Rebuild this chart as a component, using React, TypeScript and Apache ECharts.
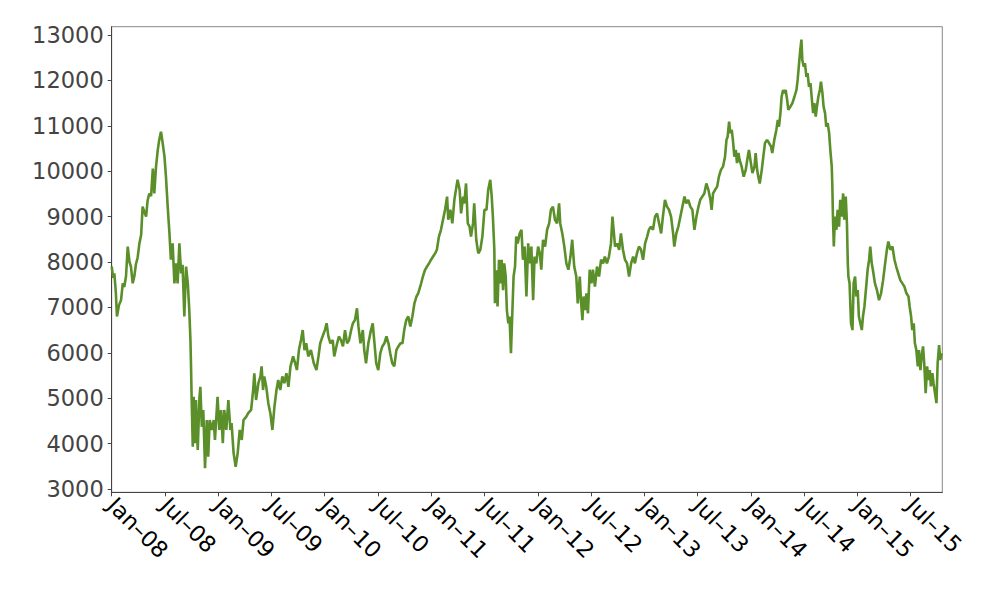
import React, { useEffect, useRef } from "react";
import * as echarts from "echarts";

// x: days since 2008-01-01, y: index level
const START_YEAR = 2008;
const X_END_DAYS = 2848;

const points2008to2011: [number, number][] = [
  [0, 7900], [5, 7650], [9, 7750], [14, 7350], [18, 6800], [25, 7050], [32, 7160], [38, 7530], [43, 7450], [49, 7680],
  [55, 8340], [61, 8000], [66, 7900], [72, 7530], [78, 7700], [83, 7950], [89, 8100], [95, 8410], [101, 8600], [106, 9220],
  [112, 9100], [118, 9000], [123, 9350], [129, 9510], [135, 9450], [141, 10060], [146, 9510], [152, 10100], [158, 10470], [163, 10690],
  [169, 10870], [175, 10610], [181, 10320], [186, 9880], [192, 9220], [198, 8630], [203, 8050], [209, 8410], [215, 7530], [221, 7970],
  [226, 7530], [232, 8410], [238, 7750], [243, 7940], [249, 6800], [255, 7900], [261, 7530], [266, 6940], [270, 6280], [272, 5700],
  [274, 5030], [278, 3930], [281, 5030], [286, 4010], [289, 4960], [295, 3860], [301, 5030], [304, 5250], [309, 4370], [314, 4740],
  [320, 3460], [326, 4520], [331, 3710], [336, 4520], [343, 4300], [350, 4520], [354, 4080], [363, 5030], [369, 4300], [375, 4740],
  [381, 4010], [386, 4740], [393, 4300], [400, 4960], [407, 4300], [411, 4450], [418, 3790], [425, 3490], [432, 3790], [439, 4300],
  [446, 4080], [452, 4520], [461, 4590], [468, 4670], [478, 4740], [485, 5180], [489, 5550], [495, 4960], [503, 5330], [510, 5480],
  [514, 5700], [519, 5180], [523, 5480], [530, 5250], [537, 4890], [544, 4670], [551, 4300], [558, 4810], [565, 5180], [571, 5400],
  [578, 5180], [585, 5480], [592, 5330], [599, 5550], [606, 5250], [613, 5700], [622, 5920], [629, 5770], [635, 5620], [642, 6060],
  [649, 6280], [655, 6500], [661, 6060], [667, 6210], [674, 5920], [683, 6060], [693, 5770], [702, 5620], [709, 5920], [715, 6210],
  [723, 6360], [731, 6500], [737, 6650], [743, 6360], [750, 6210], [758, 6280], [763, 5920], [773, 6210], [779, 6360], [786, 6280],
  [793, 6140], [800, 6500], [807, 6210], [814, 6280], [821, 6500], [827, 6650], [834, 6720], [841, 6980], [846, 6580], [853, 6210],
  [861, 6500], [866, 6060], [872, 5770], [880, 6210], [889, 6500], [895, 6650], [901, 6210], [907, 5770], [914, 5620], [921, 5990],
  [928, 6140], [935, 6210], [942, 6360], [949, 6210], [955, 5990], [962, 5770], [969, 5700], [976, 6060], [983, 6140], [990, 6210],
  [997, 6210], [1003, 6500], [1010, 6720], [1017, 6800], [1024, 6580], [1031, 6800], [1038, 7090], [1045, 7240], [1051, 7310], [1061, 7530],
  [1067, 7680], [1074, 7820], [1081, 7900], [1088, 7970], [1095, 8050], [1102, 8120], [1109, 8190], [1115, 8270], [1122, 8560], [1129, 8710],
  [1136, 8930], [1143, 9150], [1150, 9440], [1154, 8930], [1161, 9150], [1168, 8850], [1175, 9370], [1182, 9660], [1186, 9810], [1193, 9590],
  [1198, 9070], [1205, 9440], [1209, 9290], [1215, 9730], [1221, 8850], [1227, 8780], [1232, 8560], [1239, 8850], [1243, 9290], [1250, 8490],
  [1257, 8190], [1264, 8270], [1271, 8560], [1278, 9150], [1285, 9150], [1291, 9590], [1298, 9810], [1303, 9440], [1307, 9000], [1312, 8270],
  [1314, 7090], [1319, 7820], [1323, 7020], [1328, 8050], [1332, 7530], [1337, 8050], [1342, 7380], [1346, 7970], [1351, 7680], [1355, 6940],
  [1360, 6650], [1364, 6800], [1369, 5990], [1374, 6940], [1378, 7680], [1383, 7900], [1387, 8560], [1392, 8410], [1399, 8630],
];

const points2011to2015: [number, number][] = [
  [1405, 8710], [1410, 8050], [1416, 8340], [1422, 7240], [1428, 8410], [1433, 7970], [1439, 8340], [1445, 7160], [1450, 8120], [1456, 7970],
  [1462, 8340], [1468, 8190], [1473, 7830], [1479, 8490], [1486, 8340], [1493, 8710], [1500, 8850], [1506, 9150], [1513, 9220], [1520, 8930],
  [1527, 8850], [1534, 9290], [1538, 8850], [1545, 8630], [1552, 8340], [1559, 7970], [1566, 7830], [1573, 8120], [1579, 8490], [1586, 7900],
  [1593, 7680], [1598, 7090], [1605, 7680], [1609, 7160], [1614, 6720], [1618, 7240], [1623, 6940], [1628, 7310], [1633, 6870], [1639, 7830],
  [1645, 7530], [1650, 7830], [1657, 7460], [1664, 7900], [1671, 7680], [1678, 8050], [1685, 7970], [1691, 8120], [1698, 7970], [1705, 8120],
  [1712, 8410], [1717, 9000], [1721, 8710], [1726, 8340], [1733, 8410], [1740, 8270], [1746, 8630], [1753, 8270], [1760, 8050], [1767, 7970],
  [1774, 7680], [1781, 7970], [1788, 8120], [1794, 7970], [1801, 8190], [1808, 8340], [1815, 8270], [1822, 8050], [1829, 8410], [1836, 8560],
  [1842, 8710], [1849, 8780], [1856, 8710], [1863, 9000], [1870, 9070], [1877, 8850], [1884, 8630], [1890, 9000], [1897, 9370], [1904, 9220],
  [1911, 9150], [1918, 9000], [1925, 8630], [1929, 8340], [1936, 8630], [1943, 8780], [1950, 9000], [1957, 9220], [1964, 9440], [1970, 9290],
  [1977, 9370], [1984, 9220], [1991, 9150], [1998, 8710], [2005, 9000], [2012, 9220], [2018, 9370], [2025, 9440], [2032, 9510], [2039, 9730],
  [2046, 9590], [2053, 9370], [2057, 9150], [2062, 9510], [2069, 9590], [2076, 9660], [2082, 9880], [2089, 10030], [2096, 10100], [2103, 10320],
  [2108, 10690], [2112, 10760], [2117, 11090], [2121, 10840], [2126, 10910], [2130, 10690], [2135, 10320], [2140, 10470], [2144, 10180], [2149, 10400],
  [2153, 10250], [2160, 10100], [2167, 9880], [2174, 10030], [2181, 10320], [2185, 10470], [2190, 10250], [2197, 9960], [2204, 10100], [2208, 10400],
  [2213, 10030], [2217, 9880], [2222, 9730], [2229, 10030], [2233, 10250], [2240, 10620], [2247, 10690], [2254, 10620], [2261, 10540], [2265, 10400],
  [2272, 10690], [2279, 10910], [2284, 11130], [2288, 10980], [2293, 11280], [2297, 11640], [2302, 11790], [2306, 11720], [2311, 11790], [2316, 11570],
  [2320, 11350], [2327, 11420], [2334, 11500], [2341, 11640], [2348, 11790], [2352, 12010], [2357, 12380], [2361, 12670], [2365, 12900], [2368, 12450],
  [2373, 12300], [2377, 12380], [2382, 12080], [2386, 12160], [2391, 11860], [2396, 11940], [2400, 11640], [2405, 11280], [2409, 11500], [2414, 11200],
  [2418, 11420], [2423, 11640], [2428, 11790], [2432, 11970], [2437, 11720], [2441, 11420], [2446, 11280], [2450, 10980], [2455, 11060], [2460, 10840],
  [2464, 10470], [2469, 10100], [2471, 9660], [2473, 9000], [2476, 8340], [2480, 9000], [2485, 8710], [2489, 9150], [2494, 8780], [2498, 9370],
  [2503, 9000], [2508, 9510], [2512, 8930], [2517, 9440], [2521, 8850], [2524, 7970], [2526, 7680], [2530, 7530], [2535, 6650], [2540, 6500],
  [2544, 7530], [2549, 7680], [2553, 7240], [2558, 7380], [2562, 6800], [2567, 6650], [2572, 6500], [2576, 6800], [2581, 7020], [2588, 7530],
  [2592, 7830], [2597, 8050], [2601, 8340], [2606, 7970], [2610, 7830], [2617, 7530], [2624, 7380], [2631, 7160], [2638, 7310], [2645, 7600],
  [2652, 7970], [2658, 8270], [2663, 8450], [2670, 8270], [2677, 8340], [2684, 8050], [2690, 7900], [2697, 7750], [2704, 7600], [2711, 7530],
  [2718, 7460], [2725, 7310], [2732, 7240], [2736, 7020], [2741, 6800], [2745, 6500], [2750, 6650], [2754, 6210], [2759, 6060], [2764, 5700],
  [2768, 6060], [2773, 5620], [2777, 5920], [2782, 6140], [2786, 5770], [2791, 5110], [2796, 5700], [2800, 5400], [2805, 5620], [2809, 5260],
  [2814, 5550], [2818, 5330], [2823, 5110], [2828, 4890], [2832, 5770], [2837, 6170], [2841, 5840], [2846, 5990],
];

const tickLabels = [
  "Jan–08", "Jul–08", "Jan–09", "Jul–09", "Jan–10", "Jul–10", "Jan–11", "Jul–11",
  "Jan–12", "Jul–12", "Jan–13", "Jul–13", "Jan–14", "Jul–14", "Jan–15", "Jul–15",
];

const Y_MIN = 2927;
const Y_MAX = 13183;

const LINE_COLOR = "#5a8f29";

export default function App() {
  const ref = useRef<HTMLDivElement>(null);

  useEffect(() => {
    if (!ref.current) return;
    const chart = echarts.init(ref.current, undefined, { renderer: "svg" });
    const toYear = (d: number) => START_YEAR + d / 365.25;
    const data = [...points2008to2011, ...points2011to2015].map(([d, v]) => [toYear(d), v]);

    chart.setOption({
      animation: false,
      backgroundColor: "#ffffff",
      grid: {
        left: 111.7,
        right: 57.7,
        top: 26.7,
        bottom: 107.7,
        show: true,
        borderColor: "#888888",
        borderWidth: 1,
        backgroundColor: "transparent",
      },
      xAxis: {
        type: "value",
        min: START_YEAR,
        max: toYear(X_END_DAYS),
        interval: 0.5,
        splitLine: { show: false },
        axisLine: { show: true, lineStyle: { color: "#444444", width: 1 } },
        axisTick: { show: true, length: 4, lineStyle: { color: "#444444" } },
        axisLabel: {
          rotate: -45,
          align: "left",
          verticalAlign: "middle",
          margin: 9,
          fontFamily: "DejaVu Sans",
          fontSize: 22.5,
          color: "#000000",
          showMaxLabel: false,
          formatter: (v: number) => {
            const idx = Math.round((v - START_YEAR) / 0.5);
            if (Math.abs(v - (START_YEAR + idx * 0.5)) > 1e-6) return "";
            return tickLabels[idx] ?? "";
          },
        },
      },
      yAxis: {
        type: "value",
        min: Y_MIN,
        max: Y_MAX,
        splitNumber: 10,
        splitLine: { show: false },
        axisLine: { show: true, lineStyle: { color: "#444444", width: 1 } },
        axisTick: { show: true, length: 4, lineStyle: { color: "#444444" } },
        axisLabel: {
          margin: 8,
          fontFamily: "DejaVu Sans",
          fontSize: 22.5,
          color: "#444444",
          showMinLabel: false,
          showMaxLabel: false,
          formatter: (v: number) => String(Math.round(v)),
        },
      },
      series: [
        {
          type: "line",
          data,
          showSymbol: false,
          symbol: "none",
          lineStyle: { color: LINE_COLOR, width: 2.6 },
          clip: true,
        },
      ],
    });
    return () => chart.dispose();
  }, []);

  return (
    <div
      ref={ref}
      style={{ position: "fixed", left: 0, top: 0, width: 1000, height: 600 }}
    />
  );
}
